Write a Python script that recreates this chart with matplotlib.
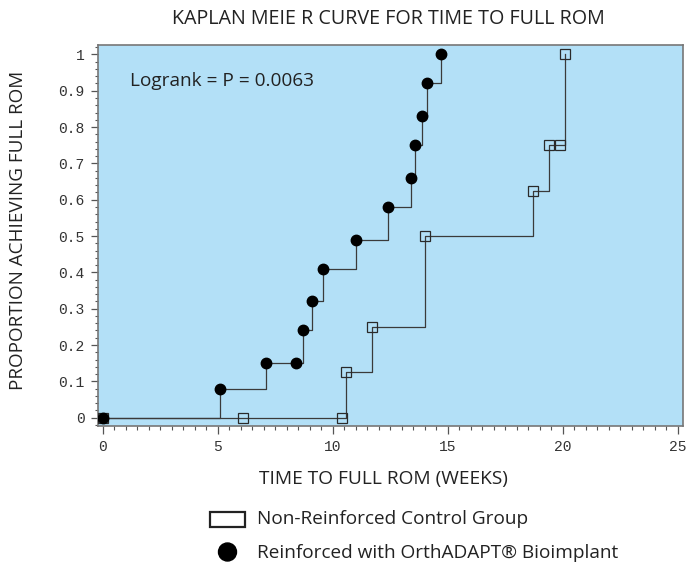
import matplotlib
matplotlib.use("Agg")
import matplotlib.pyplot as plt
from matplotlib.patches import Rectangle, Ellipse
from matplotlib.ticker import MultipleLocator

# ---- data ----
reinf_times = [0, 5.1, 7.1, 8.7, 9.1, 9.6, 11.0, 12.4, 13.4, 13.6, 13.9, 14.1, 14.7]
reinf_prop = [0, 0.08, 0.15, 0.24, 0.32, 0.41, 0.49, 0.58, 0.66, 0.75, 0.83, 0.92, 1.0]
reinf_extra_times = [8.4]
reinf_extra_prop = [0.15]

ctrl_times = [0, 10.6, 11.7, 14.0, 18.7, 19.4, 20.1]
ctrl_prop = [0, 0.125, 0.25, 0.5, 0.625, 0.75, 1.0]
ctrl_cens_times = [6.1, 10.4, 19.9]
ctrl_cens_prop = [0, 0, 0.75]

xticks = [0, 5, 10, 15, 20, 25]
yticks = [0, 0.1, 0.2, 0.3, 0.4, 0.5, 0.6, 0.7, 0.8, 0.9, 1]
ytick_labels = ["0", "0.1", "0.2", "0.3", "0.4", "0.5", "0.6", "0.7", "0.8", "0.9", "1"]

title = "KAPLAN MEIE R CURVE FOR TIME TO FULL ROM"
xlabel = "TIME TO FULL ROM (WEEKS)"
ylabel = "PROPORTION ACHIEVING FULL ROM"
annot = "Logrank = P = 0.0063"
legend_labels = ["Non-Reinforced Control Group", "Reinforced with OrthADAPT\u00ae Bioimplant"]

sans = ["Open Sans", "DejaVu Sans"]
mono = ["Liberation Mono", "DejaVu Sans Mono"]

W, H = 695, 566
fig = plt.figure(figsize=(W / 100, H / 100), dpi=100)
ax = fig.add_axes([98 / W, 1 - 426 / H, (683 - 98) / W, (426 - 45) / H])
ax.set_facecolor("#b3e0f7")

line_col = "#3a3a3a"
# control group
ax.plot(ctrl_times, ctrl_prop, drawstyle="steps-post", color=line_col, lw=0.9, zorder=2)
ax.plot(ctrl_times, ctrl_prop, ls="none", marker="s", ms=6.5, mfc="none", mec="#2a2a2a", mew=0.9, zorder=3)
ax.plot(ctrl_cens_times, ctrl_cens_prop, ls="none", marker="s", ms=6.5, mfc="none", mec="#2a2a2a", mew=0.9, zorder=3)
# reinforced group
ax.plot(reinf_times, reinf_prop, drawstyle="steps-post", color=line_col, lw=0.9, zorder=2)
ax.plot(reinf_times, reinf_prop, ls="none", marker="o", ms=7.5, mfc="black", mec="black", zorder=4)
ax.plot(reinf_extra_times, reinf_extra_prop, ls="none", marker="o", ms=7.5, mfc="black", mec="black", zorder=4)

ax.set_xlim(-0.2, 25.23)
ax.set_ylim(-0.023, 1.026)

ax.set_xticks(xticks)
ax.set_xticklabels([str(t) for t in xticks], family=mono, fontsize=10.5, color="#333333")
ax.set_yticks(yticks)
ax.set_yticklabels(ytick_labels, family=mono, fontsize=10.5, color="#333333")
ax.xaxis.set_minor_locator(MultipleLocator(0.5))
ax.yaxis.set_minor_locator(MultipleLocator(0.02))
ax.tick_params(axis="x", which="major", length=5.8, width=0.9, color="#555555", pad=4)
ax.tick_params(axis="x", which="minor", length=3, width=0.8, color="#555555")
ax.tick_params(axis="y", which="major", length=5, width=0.9, color="#555555", pad=4.5)
ax.tick_params(axis="y", which="minor", length=2.5, width=0.8, color="#555555")

for s in ax.spines.values():
    s.set_color("#777777")
    s.set_linewidth(1.2)

ax.text(0.055, 0.905, annot, transform=ax.transAxes, family=sans, fontsize=13.7,
        color="#222222", va="center", ha="left")

fig.text(388 / W, 1 - 19 / H, title, family=sans, fontsize=14.2, ha="center", va="center", color="#222222")
fig.text(383 / W, 1 - 479 / H, xlabel, family=sans, fontsize=13.8, ha="center", va="center", color="#222222")
fig.text(18 / W, 1 - 230 / H, ylabel, family=sans, fontsize=13.6, ha="center", va="center",
         rotation=90, color="#222222")

# legend (below the plot)
fig.add_artist(Rectangle((210 / W, 1 - 527 / H), 35 / W, 15 / H, transform=fig.transFigure,
                         fill=False, ec="#222222", lw=1.6))
fig.add_artist(Ellipse((227.5 / W, 1 - 552 / H), 18 / W, 18 / H, transform=fig.transFigure,
                       fc="black", ec="black"))
fig.text(257 / W, 1 - 519 / H, legend_labels[0], family=sans, fontsize=13.7, ha="left", va="center", color="#222222")
fig.text(257 / W, 1 - 553 / H, legend_labels[1], family=sans, fontsize=13.7, ha="left", va="center", color="#222222")

fig.savefig("out.png", dpi=100)
